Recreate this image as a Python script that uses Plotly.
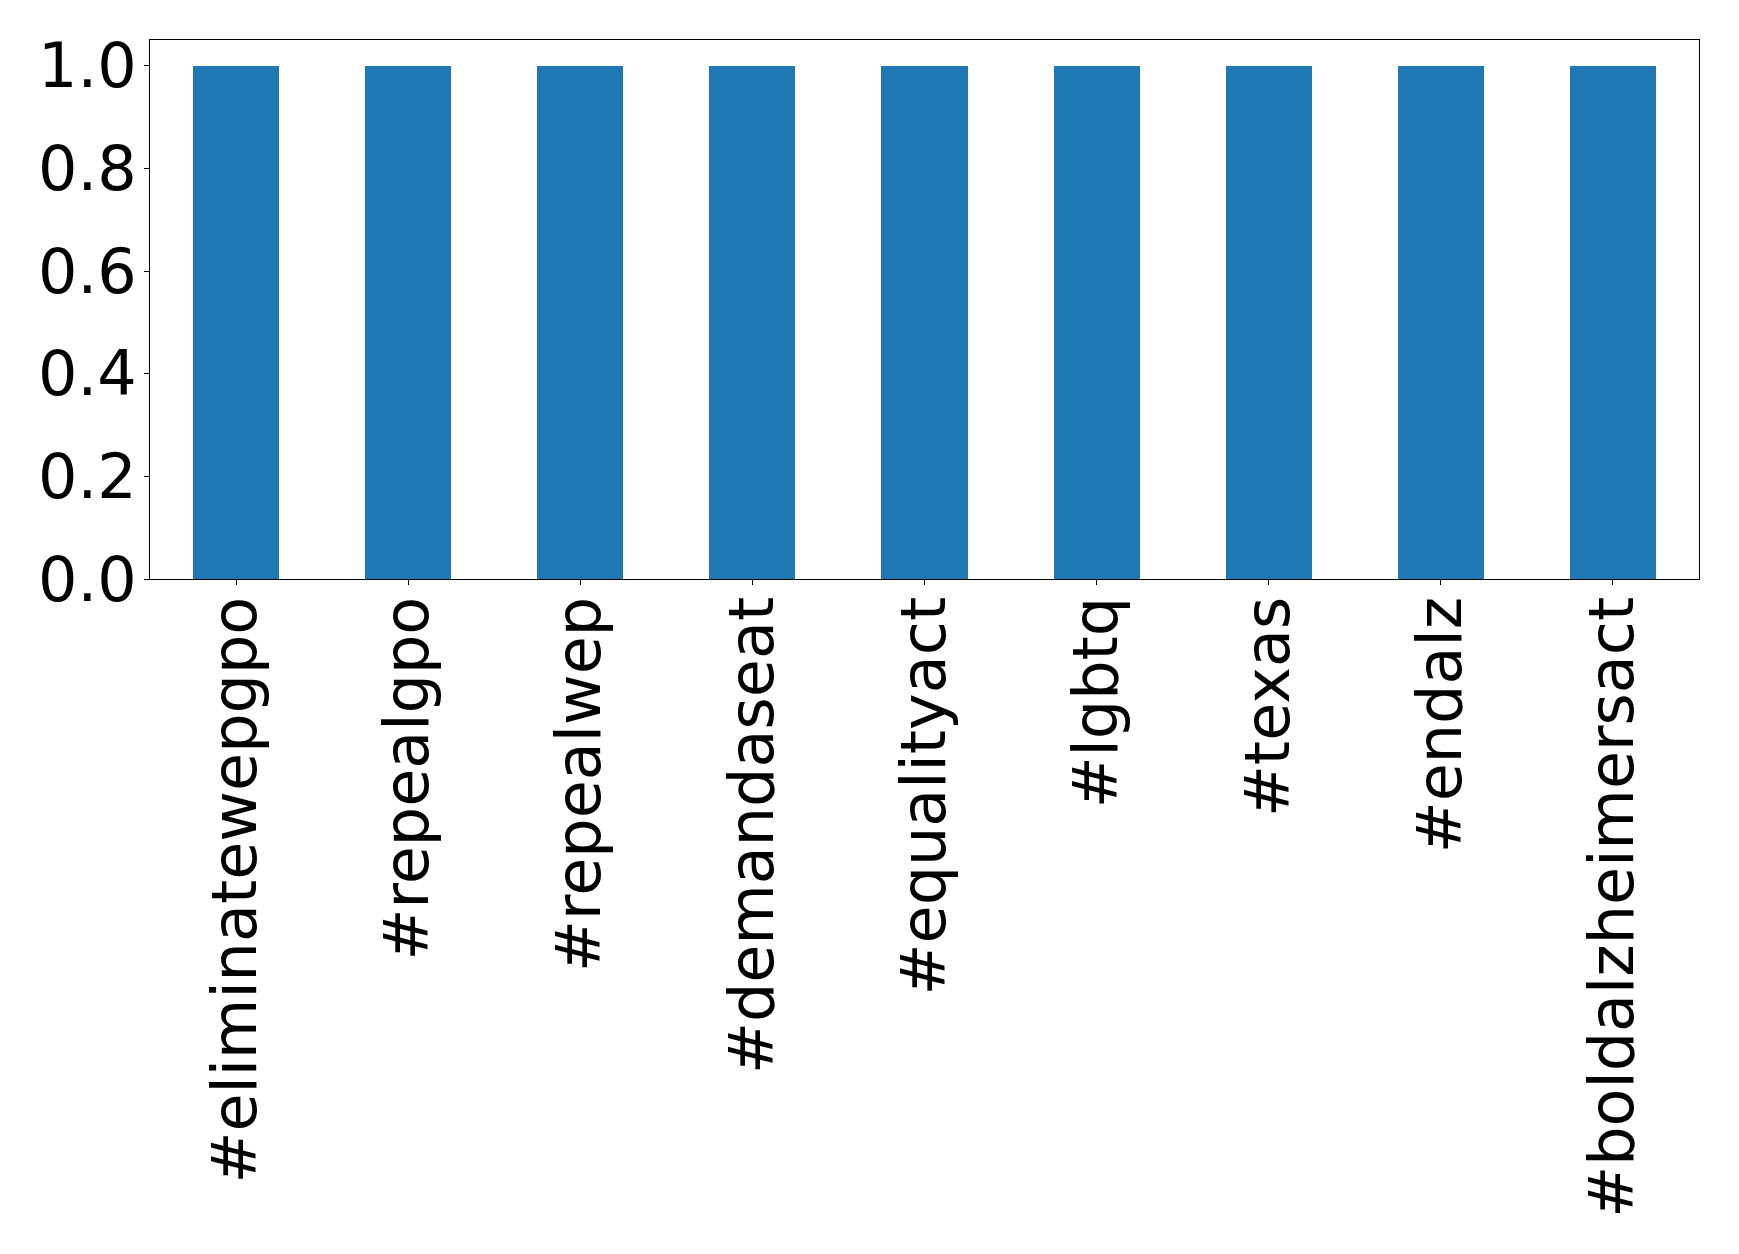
import plotly.graph_objects as go

categories = ["#eliminatewepgpo", "#repealgpo", "#repealwep", "#demandaseat",
              "#equalityact", "#lgbtq", "#texas", "#endalz", "#boldalzheimersact"]
values = [1.0, 1.0, 1.0, 1.0, 1.0, 1.0, 1.0, 1.0, 1.0]
y_ticks = [0.0, 0.2, 0.4, 0.6, 0.8, 1.0]
y_tick_labels = ["0.0", "0.2", "0.4", "0.6", "0.8", "1.0"]

W, H = 1739, 1254
OFF = 8  # body margin of the html page
L, R, T, B = 149.7 - OFF, 1699.3 - OFF, 40.3 - OFF, 579 - OFF

fig = go.Figure(go.Bar(x=list(range(len(categories))), y=values, width=0.5,
                       marker=dict(color="#1f77b4", line=dict(width=0))))

font = dict(family="DejaVu Sans", size=62, color="black")
fig.update_layout(
    width=W - OFF, height=H - OFF, autosize=False,
    margin=dict(l=L, r=(W - OFF) - R, t=T, b=(H - OFF) - B, pad=0),
    plot_bgcolor="white", paper_bgcolor="white",
    showlegend=False, bargap=0,
    font=font,
)
fig.update_xaxes(range=[-0.5, len(categories) - 0.5], tickmode="array",
                 tickvals=list(range(len(categories))), ticktext=categories,
                 tickangle=-90, ticks="outside", ticklen=5, tickwidth=1, tickcolor="black",
                 showline=True, linecolor="black", linewidth=1, mirror=True,
                 showgrid=False, zeroline=False, tickfont=font, ticklabelstandoff=-13)
fig.update_yaxes(range=[0, 1.05], tickmode="array", tickvals=y_ticks, ticktext=y_tick_labels,
                 ticks="outside", ticklen=5, tickwidth=1, tickcolor="black",
                 showline=True, linecolor="black", linewidth=1, mirror=True,
                 showgrid=False, zeroline=False, tickfont=font, ticklabelstandoff=-5)
fig.write_html("out.html")
